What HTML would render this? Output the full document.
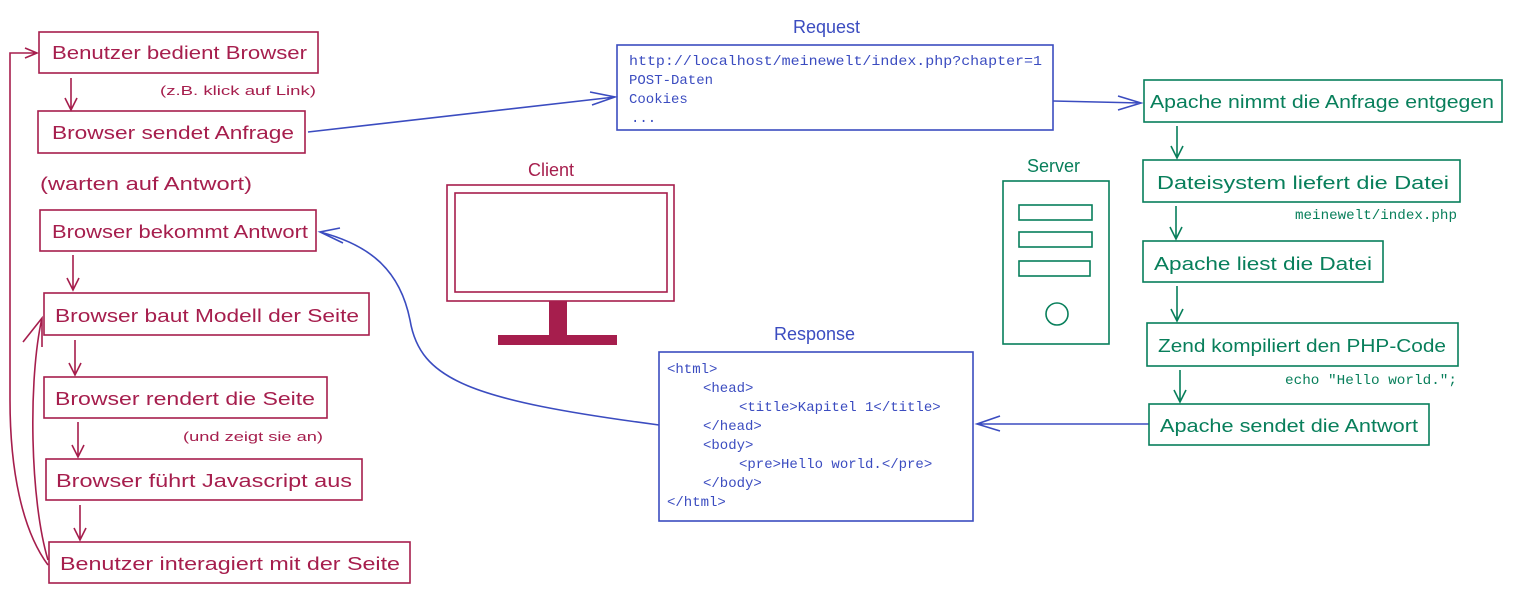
<!DOCTYPE html>
<html><head><meta charset="utf-8"><style>
html,body{margin:0;padding:0;background:#fff;}
svg{display:block;}
.r{fill:none;stroke:#a61e4d;stroke-width:1.6;}
.g{fill:none;stroke:#087f5b;stroke-width:1.6;}
.b{fill:none;stroke:#3b4cc0;stroke-width:1.6;}
.tr{fill:#a61e4d;font-family:"Liberation Sans",sans-serif;font-size:18px;}
.tg{fill:#087f5b;font-family:"Liberation Sans",sans-serif;font-size:18px;}
.tb{fill:#3b4cc0;font-family:"Liberation Sans",sans-serif;font-size:18px;}
.mb{fill:#3b4cc0;font-family:"Liberation Mono",monospace;font-size:14px;}
.mg{fill:#087f5b;font-family:"Liberation Mono",monospace;font-size:14px;}
.sm{font-size:13px;}
</style></head><body>
<svg width="1513" height="594" viewBox="0 0 1513 594" xmlns="http://www.w3.org/2000/svg">
<!-- left red column -->
<rect class="r" x="39" y="32" width="279" height="41"/>
<text class="tr" x="52" y="59" textLength="255" lengthAdjust="spacingAndGlyphs">Benutzer bedient Browser</text>
<text class="tr sm" x="160" y="95" textLength="156" lengthAdjust="spacingAndGlyphs">(z.B. klick auf Link)</text>
<rect class="r" x="38" y="111" width="267" height="42"/>
<text class="tr" x="52" y="139" textLength="242" lengthAdjust="spacingAndGlyphs">Browser sendet Anfrage</text>
<text class="tr" x="40" y="190" textLength="212" lengthAdjust="spacingAndGlyphs">(warten auf Antwort)</text>
<rect class="r" x="40" y="210" width="276" height="41"/>
<text class="tr" x="52" y="238" textLength="256" lengthAdjust="spacingAndGlyphs">Browser bekommt Antwort</text>
<rect class="r" x="44" y="293" width="325" height="42"/>
<text class="tr" x="55" y="322" textLength="304" lengthAdjust="spacingAndGlyphs">Browser baut Modell der Seite</text>
<rect class="r" x="44" y="377" width="283" height="41"/>
<text class="tr" x="55" y="405" textLength="260" lengthAdjust="spacingAndGlyphs">Browser rendert die Seite</text>
<text class="tr sm" x="183" y="441" textLength="140" lengthAdjust="spacingAndGlyphs">(und zeigt sie an)</text>
<rect class="r" x="46" y="459" width="316" height="41"/>
<text class="tr" x="56" y="487" textLength="296" lengthAdjust="spacingAndGlyphs">Browser führt Javascript aus</text>
<rect class="r" x="49" y="542" width="361" height="41"/>
<text class="tr" x="60" y="570" textLength="340" lengthAdjust="spacingAndGlyphs">Benutzer interagiert mit der Seite</text>
<!-- down arrows -->
<g class="r">
<path d="M71,78 V110 M65,98 L71,110 L77,98"/>
<path d="M73,255 V290 M67,278 L73,290 L79,278"/>
<path d="M75,340 V375 M69,363 L75,375 L81,363"/>
<path d="M78,422 V457 M72,445 L78,457 L84,445"/>
<path d="M80,505 V540 M74,528 L80,540 L86,528"/>
<path d="M48,565 C22,530 10,470 10,400 L10,53 L37,53 M25,48 L37,53 L25,58"/>
<path d="M48,560 C30,500 28,380 42,318 M23,342 L42,318 L42,347"/>
</g>
<!-- client monitor -->
<text class="tr" x="528" y="176">Client</text>
<rect class="r" x="447" y="185" width="227" height="116"/>
<rect class="r" x="455" y="193" width="212" height="99"/>
<rect x="549" y="301" width="18" height="34" fill="#a61e4d"/>
<rect x="498" y="335" width="119" height="10" fill="#a61e4d"/>
<!-- request -->
<text class="tb" x="793" y="33">Request</text>
<rect class="b" x="617" y="45" width="436" height="85"/>
<text class="mb" x="629" y="65" textLength="413" lengthAdjust="spacingAndGlyphs">http://localhost/meinewelt/index.php?chapter=1</text>
<text class="mb" x="629" y="84">POST-Daten</text>
<text class="mb" x="629" y="103">Cookies</text>
<text class="mb" x="631" y="122">...</text>
<g class="b">
<path d="M308,132 L615,97 M590,92 L615,97 L592,105"/>
<path d="M1053,101 L1141,103 M1118,96 L1141,103 L1118,110"/>
<path d="M1149,424 L977,424 M1000,416 L977,424 L1000,431"/>
<path d="M659,425 C470,400 420,380 410,320 C400,270 370,245 320,232 M340,228 L320,232 L343,243"/>
</g>
<!-- response -->
<text class="tb" x="774" y="340">Response</text>
<rect class="b" x="659" y="352" width="314" height="169"/>
<text class="mb" x="667" y="373">&lt;html&gt;</text>
<text class="mb" x="703" y="392">&lt;head&gt;</text>
<text class="mb" x="739" y="411">&lt;title&gt;Kapitel 1&lt;/title&gt;</text>
<text class="mb" x="703" y="430">&lt;/head&gt;</text>
<text class="mb" x="703" y="449">&lt;body&gt;</text>
<text class="mb" x="739" y="468">&lt;pre&gt;Hello world.&lt;/pre&gt;</text>
<text class="mb" x="703" y="487">&lt;/body&gt;</text>
<text class="mb" x="667" y="506">&lt;/html&gt;</text>
<!-- server -->
<text class="tg" x="1027" y="172">Server</text>
<rect class="g" x="1003" y="181" width="106" height="163"/>
<rect class="g" x="1019" y="205" width="73" height="15"/>
<rect class="g" x="1019" y="232" width="73" height="15"/>
<rect class="g" x="1019" y="261" width="71" height="15"/>
<circle class="g" cx="1057" cy="314" r="11"/>
<!-- green column -->
<rect class="g" x="1144" y="80" width="358" height="42"/>
<text class="tg" x="1150" y="108" textLength="344" lengthAdjust="spacingAndGlyphs">Apache nimmt die Anfrage entgegen</text>
<rect class="g" x="1143" y="160" width="317" height="42"/>
<text class="tg" x="1157" y="189" textLength="292" lengthAdjust="spacingAndGlyphs">Dateisystem liefert die Datei</text>
<text class="mg" x="1295" y="219" textLength="162" lengthAdjust="spacingAndGlyphs">meinewelt/index.php</text>
<rect class="g" x="1143" y="241" width="240" height="41"/>
<text class="tg" x="1154" y="270" textLength="218" lengthAdjust="spacingAndGlyphs">Apache liest die Datei</text>
<rect class="g" x="1147" y="323" width="311" height="43"/>
<text class="tg" x="1158" y="352" textLength="288" lengthAdjust="spacingAndGlyphs">Zend kompiliert den PHP-Code</text>
<text class="mg" x="1285" y="384" textLength="172" lengthAdjust="spacingAndGlyphs">echo "Hello world.";</text>
<rect class="g" x="1149" y="404" width="280" height="41"/>
<text class="tg" x="1160" y="432" textLength="258" lengthAdjust="spacingAndGlyphs">Apache sendet die Antwort</text>
<g class="g">
<path d="M1177,126 V158 M1171,146 L1177,158 L1183,146"/>
<path d="M1176,206 V239 M1170,227 L1176,239 L1182,227"/>
<path d="M1177,286 V321 M1171,309 L1177,321 L1183,309"/>
<path d="M1180,370 V402 M1174,390 L1180,402 L1186,390"/>
</g>
</svg>
</body></html>
